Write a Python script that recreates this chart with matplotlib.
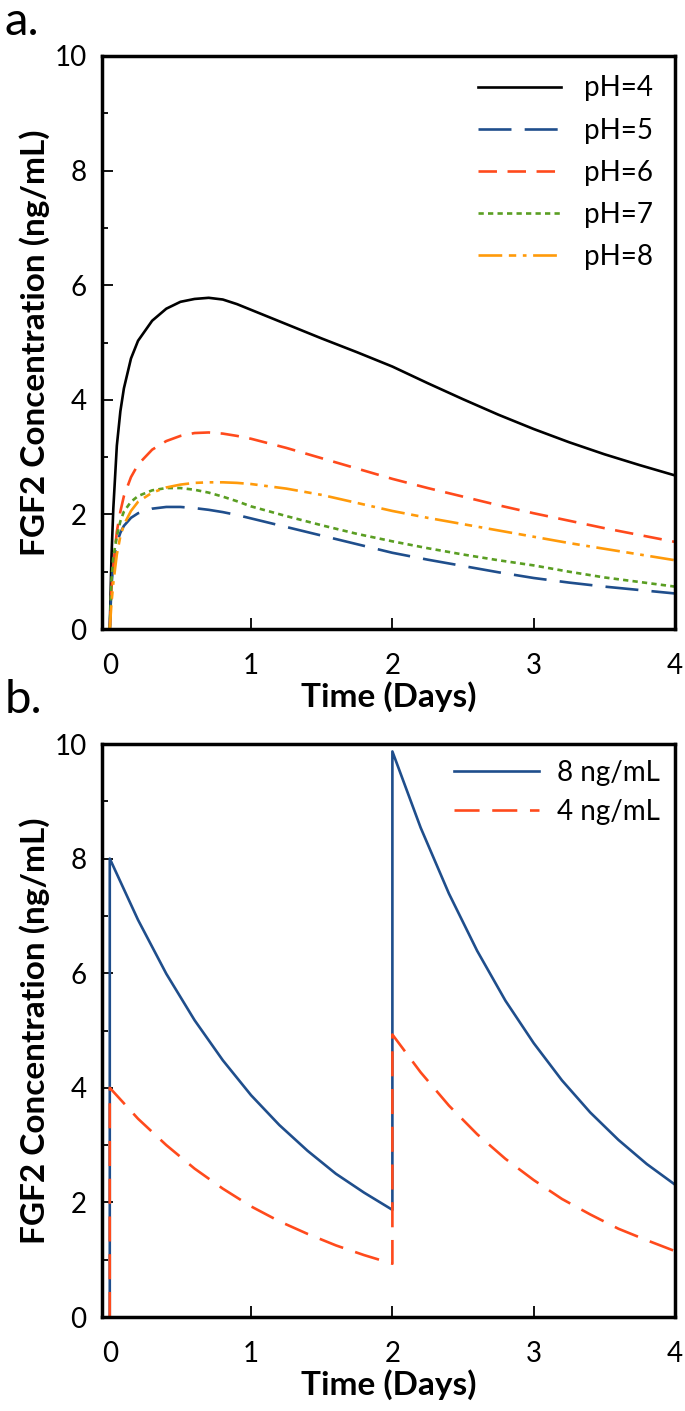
import numpy as np
import matplotlib.pyplot as plt

plt.rcParams['font.family'] = ['Lato', 'DejaVu Sans']

# ---- panel a: FGF2 release at different pH ----
t_a = [0, 0.012, 0.025, 0.05, 0.075, 0.1, 0.15, 0.2, 0.3, 0.4, 0.5, 0.6, 0.7, 0.8, 0.9, 1.0,
       1.25, 1.5, 1.75, 2.0, 2.25, 2.5, 2.75, 3.0, 3.25, 3.5, 3.75, 4.0]
ph4 = [0, 1.25, 2.10, 3.20, 3.80, 4.20, 4.72, 5.03, 5.38, 5.59, 5.71, 5.76, 5.78, 5.75, 5.67, 5.57,
       5.32, 5.07, 4.83, 4.58, 4.29, 4.01, 3.74, 3.49, 3.26, 3.05, 2.86, 2.68]
ph5 = [0, 0.75, 1.15, 1.50, 1.68, 1.80, 1.94, 2.02, 2.10, 2.13, 2.13, 2.11, 2.08, 2.04, 1.99, 1.93,
       1.78, 1.63, 1.48, 1.33, 1.21, 1.10, 0.99, 0.89, 0.81, 0.74, 0.68, 0.62]
ph6 = [0, 0.70, 1.10, 1.70, 2.05, 2.32, 2.65, 2.87, 3.13, 3.28, 3.37, 3.42, 3.43, 3.41, 3.37, 3.32,
       3.16, 2.98, 2.80, 2.62, 2.46, 2.31, 2.16, 2.02, 1.89, 1.76, 1.64, 1.52]
ph7 = [0, 0.85, 1.25, 1.62, 1.88, 2.05, 2.22, 2.32, 2.42, 2.46, 2.46, 2.43, 2.38, 2.31, 2.23, 2.14,
       1.97, 1.81, 1.66, 1.53, 1.41, 1.30, 1.20, 1.11, 1.00, 0.90, 0.82, 0.74]
ph8 = [0, 0.45, 0.80, 1.30, 1.62, 1.82, 2.06, 2.22, 2.38, 2.47, 2.52, 2.55, 2.56, 2.56, 2.55, 2.53,
       2.45, 2.34, 2.20, 2.06, 1.94, 1.83, 1.72, 1.61, 1.50, 1.40, 1.30, 1.20]
labels_a = ['pH=4', 'pH=5', 'pH=6', 'pH=7', 'pH=8']

# ---- panel b: two dosing levels, redosed on day 2 ----
t_b = [0, 0, 0.2, 0.4, 0.6, 0.8, 1.0, 1.2, 1.4, 1.6, 1.8, 2.0,
       2.0, 2.2, 2.4, 2.6, 2.8, 3.0, 3.2, 3.4, 3.6, 3.8, 4.0]
dose8 = [0, 8.00, 6.93, 5.99, 5.18, 4.48, 3.87, 3.35, 2.90, 2.50, 2.17, 1.87,
         9.87, 8.54, 7.39, 6.39, 5.52, 4.78, 4.13, 3.57, 3.09, 2.67, 2.31]
dose4 = [0, 4.00, 3.46, 3.00, 2.59, 2.24, 1.93, 1.67, 1.45, 1.25, 1.08, 0.93,
         4.93, 4.27, 3.69, 3.19, 2.76, 2.39, 2.06, 1.79, 1.54, 1.34, 1.15]
labels_b = ['8 ng/mL', '4 ng/mL']

blue = '#1f4e8c'
red = '#ff4a1c'
green = '#5a9e22'
orange = '#ff9a0a'
lw = 1.9

fig = plt.figure(figsize=(6.85, 14.11), dpi=100)
ax1 = fig.add_axes([102/685, 1-629/1411, 573/685, 573/1411])
ax2 = fig.add_axes([102/685, 1-1317/1411, 573/685, 573/1411])

ax1.plot(t_a, ph4, color='black', lw=lw, label=labels_a[0])
ax1.plot(t_a, ph5, color=blue, lw=lw, dashes=(12.5, 5), label=labels_a[1])
ax1.plot(t_a, ph6, color=red, lw=lw, dashes=(7, 4), label=labels_a[2])
ax1.plot(t_a, ph7, color=green, lw=lw, dashes=(2, 1.6), label=labels_a[3])
ax1.plot(t_a, ph8, color=orange, lw=lw, dashes=(9, 2.5, 2.8, 2.5, 1.4, 2.5), label=labels_a[4])

ax2.plot(t_b, dose8, color=blue, lw=lw, label=labels_b[0])
ax2.plot(t_b, dose4, color=red, lw=lw, dashes=(9.5, 4.8), label=labels_b[1])

for ax in (ax1, ax2):
    ax.set_xlim(-0.055, 4)
    ax.set_ylim(0, 10)
    ax.set_xticks([0, 1, 2, 3, 4])
    ax.set_yticks([0, 2, 4, 6, 8, 10])
    ax.set_yticks([1, 3, 5, 7, 9], minor=True)
    ax.tick_params(axis='both', which='major', direction='in', length=8, width=1.3,
                   labelsize=20)
    ax.tick_params(axis='x', which='major', pad=17)
    ax.tick_params(axis='y', which='major', pad=11)
    ax.tick_params(axis='y', which='minor', direction='in', length=4, width=1.3)
    for s in ax.spines.values():
        s.set_linewidth(2.5)
    ax.set_xlabel('Time (Days)', fontsize=24, fontweight='bold', labelpad=2)
    ax.set_ylabel('FGF2 Concentration (ng/mL)', fontsize=24, fontweight='bold', labelpad=3)

ax1.legend(loc='upper right', bbox_to_anchor=(0.962, 0.966), borderaxespad=0, borderpad=0,
           frameon=False, fontsize=20, handlelength=3.0, handletextpad=0.83, labelspacing=0.58)
ax2.legend(loc='upper right', bbox_to_anchor=(0.974, 0.972), borderaxespad=0, borderpad=0,
           frameon=False, fontsize=20, handlelength=3.06, handletextpad=0.65, labelspacing=0.45)

fig.text(5/685, 1-22/1411, 'a.', fontsize=34, va='center', ha='left')
fig.text(5/685, 1-700/1411, 'b.', fontsize=34, va='center', ha='left')

fig.savefig('out.png', dpi=100)
